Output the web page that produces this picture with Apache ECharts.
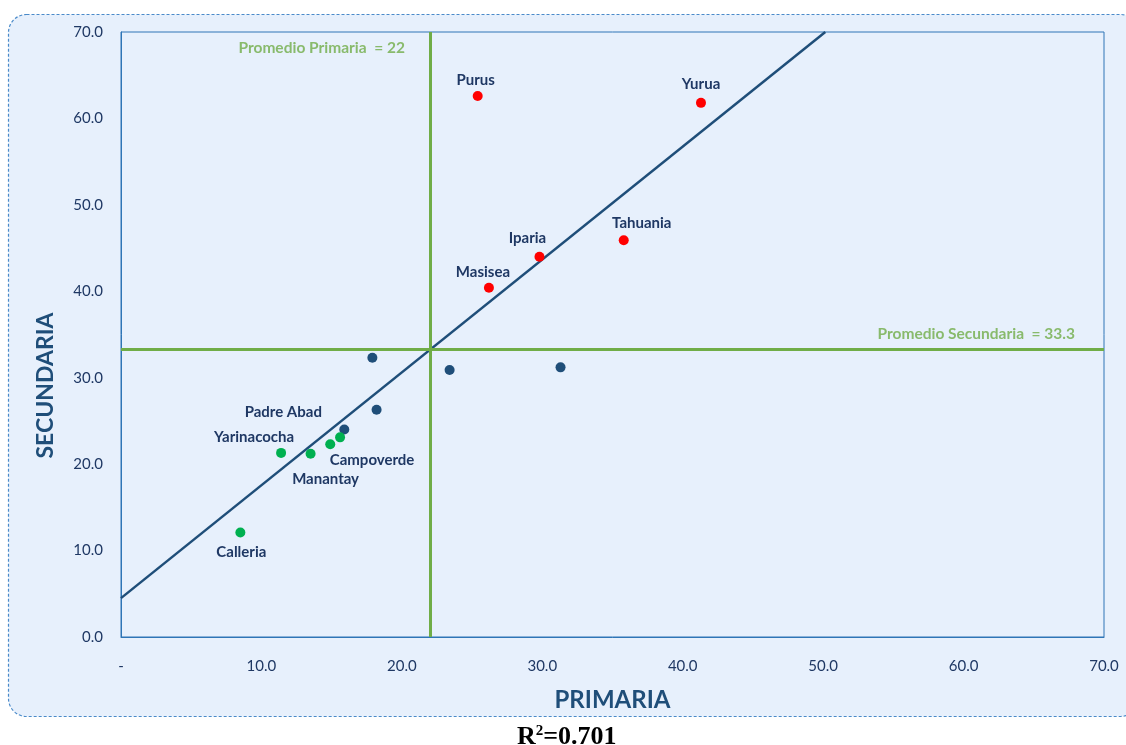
<!DOCTYPE html>
<html>
<head>
<meta charset="utf-8">
<script src="https://cdn.jsdelivr.net/npm/echarts@6/dist/echarts.min.js"></script>
<style>
html,body{margin:0;padding:0;background:#fff;}
#c{width:1126px;height:745px;}
</style>
</head>
<body>
<div id="c"></div>
<script>
// ---- data ----
const highNames = ['Purus','Yurua','Tahuania','Iparia','Masisea'];
const highX = [25.4, 41.3, 35.8, 29.8, 26.2];
const highY = [62.6, 61.8, 45.9, 44.0, 40.4];

const midNames = ['', '', '', '', 'Padre Abad'];
const midX = [17.9, 23.4, 31.3, 18.2, 15.9];
const midY = [32.3, 30.9, 31.2, 26.3, 24.0];

const lowNames = ['Campoverde', '', 'Manantay', 'Yarinacocha', 'Calleria'];
const lowX = [15.6, 14.9, 13.5, 11.4, 8.5];
const lowY = [23.1, 22.3, 21.2, 21.3, 12.1];

const promPrimaria = 22;
const promSecundaria = 33.3;
const trendIntercept = 4.5;
const trendSlope = 1.306;
const r2Text = '0.701';
const axisMin = 0, axisMax = 70, axisInterval = 10;

// label offsets (style only)
const labelOffsets = {
  'Purus': [-2,-16], 'Yurua': [0,-19], 'Tahuania': [18,-17], 'Iparia': [-12,-19], 'Masisea': [-6,-16],
  'Padre Abad': [-61,-17], 'Yarinacocha': [-27,-16], 'Campoverde': [32,23], 'Manantay': [15,25], 'Calleria': [1,20]
};

function build(names, xs, ys) {
  return xs.map((x, i) => {
    const n = names[i];
    const item = { value: [x, ys[i]], name: n };
    if (n) {
      item.label = { show: true, formatter: n, position: 'inside', offset: labelOffsets[n] };
    }
    return item;
  });
}

const navy = '#1F3864';
const lblStyle = { color: navy, fontFamily: 'Lato', fontWeight: 'bold', fontSize: 15 };

const trendEndX = (axisMax - trendIntercept) / trendSlope;
const trendData = [[axisMin, trendIntercept], [trendEndX, trendIntercept + trendSlope * trendEndX]];

const chart = echarts.init(document.getElementById('c'), null, { renderer: 'canvas' });
chart.setOption({
  animation: false,
  backgroundColor: '#ffffff',
  graphic: [
    { type: 'rect', z: -10, shape: { x: 8.5, y: 14.5, width: 1130, height: 702, r: 18 },
      style: { fill: '#E7F0FC', stroke: '#4A8AC9', lineWidth: 1.2, lineDash: [3, 2] } },
    { type: 'text', left: 517, top: 724, z: 10,
      style: { text: '{a|R}{s|2}{a|=' + r2Text + '}',
        rich: { a: { fontFamily: 'Liberation Serif', fontWeight: 'bold', fontSize: 26, color: '#000', verticalAlign: 'bottom' },
                s: { fontFamily: 'Liberation Serif', fontWeight: 'bold', fontSize: 15, color: '#000', verticalAlign: 'top', padding: [0,0,11,0] } } } }
  ],
  grid: { left: 121, right: 22, top: 32, bottom: 108, show: true, borderColor: '#2E75B6', borderWidth: 1, backgroundColor: '#E7F0FC' },
  xAxis: {
    type: 'value', min: axisMin, max: axisMax, interval: axisInterval,
    name: 'PRIMARIA', nameLocation: 'middle', nameGap: 51,
    nameTextStyle: { color: '#1F4E79', fontFamily: 'Lato', fontWeight: 'bold', fontSize: 24 },
    axisLine: { show: true, lineStyle: { color: '#2E75B6' } }, axisTick: { show: false },
    splitLine: { show: false },
    axisLabel: { margin: 22, color: navy, fontFamily: 'Lato', fontSize: 15,
      formatter: v => v === 0 ? '-' : v.toFixed(1) }
  },
  yAxis: {
    type: 'value', min: axisMin, max: axisMax, interval: axisInterval,
    name: 'SECUNDARIA', nameLocation: 'middle', nameGap: 64, nameRotate: 90,
    nameTextStyle: { color: '#1F4E79', fontFamily: 'Lato', fontWeight: 'bold', fontSize: 23, padding: [0, 102, 0, 0] },
    axisLine: { show: true, lineStyle: { color: '#2E75B6' } }, axisTick: { show: false },
    splitLine: { show: false },
    axisLabel: { margin: 18, color: navy, fontFamily: 'Lato', fontSize: 15,
      formatter: v => v.toFixed(1) }
  },
  series: [
    { type: 'line', data: trendData, symbol: 'none', lineStyle: { color: '#1F4E79', width: 2.5 }, z: 3,
      markLine: { silent: true, symbol: 'none', label: { show: false },
        lineStyle: { color: '#70AD47', width: 3, type: 'solid' },
        data: [{ xAxis: promPrimaria }, { yAxis: promSecundaria }] } },
    { type: 'scatter', symbolSize: 0, z: 6, silent: true,
      data: [
        { value: [promPrimaria, 68.1], label: { show: true, position: 'left', distance: 25, formatter: 'Promedio Primaria  = ' + promPrimaria } },
        { value: [axisMax, promSecundaria], label: { show: true, position: 'left', distance: 29, offset: [0, -15], formatter: 'Promedio Secundaria  = ' + promSecundaria } }
      ],
      label: { color: '#70AD47', fontFamily: 'Lato', fontWeight: 'bold', fontSize: 15.5 } },
    { type: 'scatter', data: build(highNames, highX, highY), symbolSize: 10, itemStyle: { color: '#FF0000', opacity: 1 }, label: lblStyle, z: 5 },
    { type: 'scatter', data: build(midNames, midX, midY), symbolSize: 10, itemStyle: { color: '#1F4E79', opacity: 1 }, label: lblStyle, z: 5 },
    { type: 'scatter', data: build(lowNames, lowX, lowY), symbolSize: 10, itemStyle: { color: '#00B050', opacity: 1 }, label: lblStyle, z: 5 }
  ]
});
</script>
</body>
</html>
